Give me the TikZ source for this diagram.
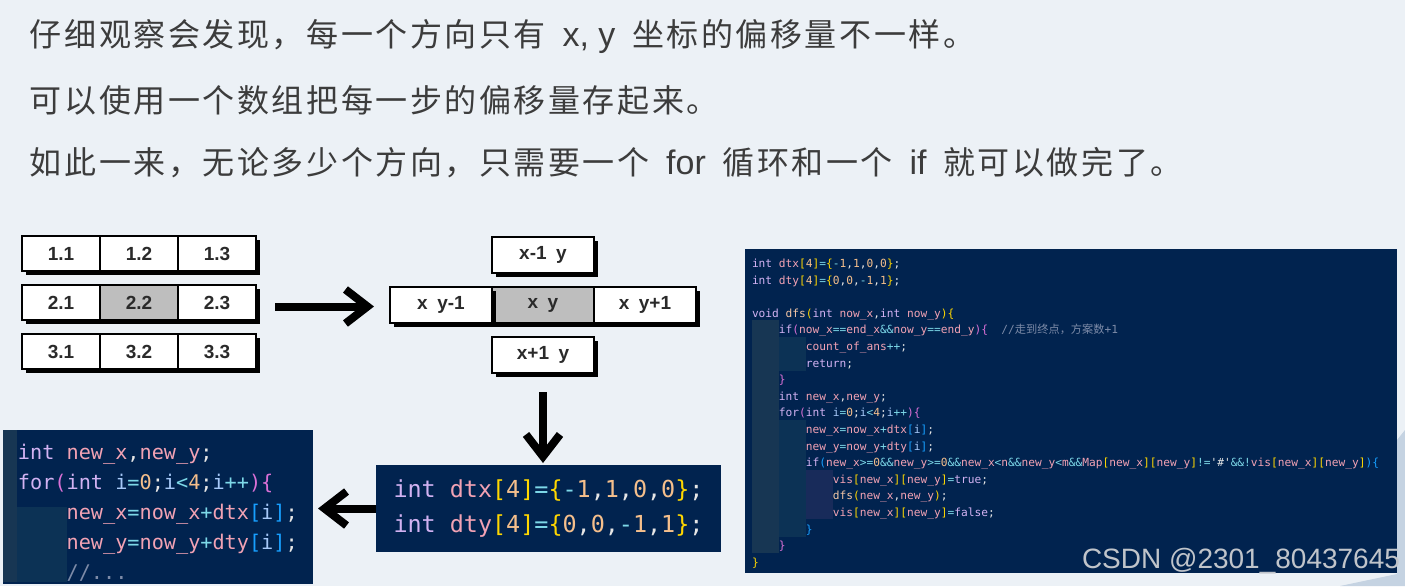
\documentclass[tikz,border=0pt]{standalone}
\usepackage{fontspec}
\setmainfont{Noto Sans CJK SC}
\setsansfont{Liberation Sans}
\setmonofont{DejaVu Sans Mono}
\newfontfamily\cjk{Noto Sans CJK SC}
\newfontfamily\cjkwide[LetterSpace=8]{Noto Sans CJK SC}
\usetikzlibrary{arrows.meta,calc,shadows,positioning}

\definecolor{bg}{HTML}{ECF1F6}
\definecolor{navy}{HTML}{01234F}
\definecolor{hotgray}{HTML}{BEBEBE}
\definecolor{celltext}{HTML}{2A2A2A}
\definecolor{slide}{HTML}{3C3C3C}
\definecolor{kwcol}{HTML}{D2B2F2}
\definecolor{idcol}{HTML}{F2A2B4}
\definecolor{fncol}{HTML}{F4C6A6}
\definecolor{numcol}{HTML}{F5BF8C}
\definecolor{opcol}{HTML}{7DD8E8}
\definecolor{pucol}{HTML}{E6E6E6}
\definecolor{vacol}{HTML}{A6C8F8}
\definecolor{brA}{HTML}{FFD700}
\definecolor{brB}{HTML}{DA70D6}
\definecolor{brC}{HTML}{179FFF}
\definecolor{cmcol}{HTML}{7D8BA8}
\definecolor{guideA}{HTML}{173653}
\definecolor{guideB}{HTML}{0C3255}
\definecolor{guideC}{HTML}{182B5A}
\definecolor{wmark}{HTML}{C0C4CA}
\definecolor{deco}{HTML}{C5D3E2}

\begin{document}
\begin{tikzpicture}[x=0.5pt,y=-0.5pt,
    every node/.style={outer sep=0pt},
    cell/.style={draw, line width=1pt, fill=white, inner sep=0pt,
      minimum width=39pt, minimum height=17.5pt, text=celltext,
      font=\sffamily\bfseries\fontsize{9.5}{10}\selectfont,
      general shadow={fill=black, shadow xshift=2pt, shadow yshift=-2pt}},
    xcell/.style={cell, minimum width=51pt, minimum height=18pt},
    hot/.style={fill=hotgray},
    fat/.style={line width=4pt, -{Straight Barb[length=11pt,width=17pt]}},
    codebox/.style={fill=navy, inner sep=0pt},
    slideline/.style={anchor=west, inner sep=0pt, text=slide,
      font=\cjkwide\fontsize{16}{20}\selectfont}]
  \newcommand{\Kw}[1]{\textcolor{kwcol}{#1}}
  \newcommand{\Id}[1]{\textcolor{idcol}{#1}}
  \newcommand{\Fn}[1]{\textcolor{fncol}{#1}}
  \newcommand{\Nm}[1]{\textcolor{numcol}{#1}}
  \newcommand{\Op}[1]{\textcolor{opcol}{#1}}
  \newcommand{\Pu}[1]{\textcolor{pucol}{#1}}
  \newcommand{\Va}[1]{\textcolor{vacol}{#1}}
  \newcommand{\Ba}[1]{\textcolor{brA}{#1}}
  \newcommand{\Bb}[1]{\textcolor{brB}{#1}}
  \newcommand{\Bc}[1]{\textcolor{brC}{#1}}
  \newcommand{\Cm}[1]{\textcolor{cmcol}{#1}}
  \newcommand{\Ind}{\phantom{0000}}
  \newcommand{\Lt}[1]{\hspace{3.5pt}{\sffamily\fontsize{17}{20}\selectfont #1}\hspace{3.5pt}}

  \fill[bg] (0,0) rectangle (1405,586);
  \useasboundingbox (0,0) rectangle (1405,586);
  \fill[deco] (1397,440) -- (1405,430) -- (1405,586) -- (1340,586) -- (1397,574) -- cycle;

  % slide text
  \node[slideline] (t1) at (30,36) {仔细观察会发现，每一个方向只有 \Lt{x, y} 坐标的偏移量不一样。};
  \node[slideline] (t2) at (30,100) {可以使用一个数组把每一步的偏移量存起来。};
  \node[slideline] (t3) at (30,163) {如此一来，无论多少个方向，只需要一个 \Lt{for} 循环和一个 \Lt{if} 就可以做完了。};

  % 3x3 grid
  \node[cell] (g11) at (61,253.5) {1.1};
  \node[cell, right=0pt of g11] (g12) {1.2};
  \node[cell, right=0pt of g12] (g13) {1.3};
  \node[cell, below=7pt of g11] (g21) {2.1};
  \node[cell, hot, right=0pt of g21] (g22) {2.2};
  \node[cell, right=0pt of g22] (g23) {2.3};
  \node[cell, below=7pt of g21] (g31) {3.1};
  \node[cell, right=0pt of g31] (g32) {3.2};
  \node[cell, right=0pt of g32] (g33) {3.3};

  % neighbours of (x,y)
  \node[xcell, hot] (xc) at (543,305) {x\enspace y};
  \node[xcell, left=0pt of xc] (xl) {x\enspace y-1};
  \node[xcell, right=0pt of xc] (xr) {x\enspace y+1};
  \node[xcell, above=7pt of xc] (xt) {x-1\enspace y};
  \node[xcell, below=7pt of xc] (xb) {x+1\enspace y};

  % offset arrays
  \node[codebox, minimum width=172.5pt, minimum height=43.5pt, align=left,
    font=\ttfamily\fontsize{11.7}{17.5}\selectfont] (dtxbox) at (548.5,508.5)
    {\Kw{int} \Id{dtx}\Ba{[}\Nm{4}\Ba{]}\Op{=}\Ba{\{}\Op{-}\Nm{1}\Pu{,}\Nm{1}\Pu{,}\Nm{0}\Pu{,}\Nm{0}\Ba{\}}\Pu{;}\\
     \Kw{int} \Id{dty}\Ba{[}\Nm{4}\Ba{]}\Op{=}\Ba{\{}\Nm{0}\Pu{,}\Nm{0}\Pu{,}\Op{-}\Nm{1}\Pu{,}\Nm{1}\Ba{\}}\Pu{;}};

  % loop snippet
  \node[codebox, minimum width=155pt, minimum height=77pt] (loopbox) at (158,507) {};
  \fill[guideA] (loopbox.north west) rectangle (17,582);
  \fill[guideB] (17,507) rectangle (67,582);
  \node[anchor=north west, inner sep=0pt, align=left,
    font=\ttfamily\fontsize{10.1}{15}\selectfont] (loopcode) at (18,444)
    {\Kw{int} \Id{new\_x}\Pu{,}\Id{new\_y}\Pu{;}\\
     \Kw{for}\Bb{(}\Kw{int} \Va{i}\Op{=}\Nm{0}\Pu{;}\Va{i}\Op{<}\Nm{4}\Pu{;}\Va{i}\Op{++}\Bb{)\{}\\
     \Ind\Id{new\_x}\Op{=}\Id{now\_x}\Op{+}\Id{dtx}\Bc{[}\Va{i}\Bc{]}\Pu{;}\\
     \Ind\Id{new\_y}\Op{=}\Id{now\_y}\Op{+}\Id{dty}\Bc{[}\Va{i}\Bc{]}\Pu{;}\\
     \Ind\Cm{//...}};

  % whole dfs
  \node[codebox, anchor=north west, minimum width=326pt, minimum height=162pt] (dfsbox) at (745,249) {};
  \fill[guideA] (752,320) rectangle (779,553);
  \fill[guideB] (779,337) rectangle (806,371);
  \fill[guideB] (779,420) rectangle (806,537);
  \fill[guideC] (806,470) rectangle (833,519);
  \node[anchor=north west, inner sep=0pt, align=left,
    font=\ttfamily\fontsize{5.6}{8.3}\selectfont] (dfscode) at (752,259)
    {\Kw{int} \Id{dtx}\Ba{[}\Nm{4}\Ba{]}\Op{=}\Ba{\{}\Op{-}\Nm{1}\Pu{,}\Nm{1}\Pu{,}\Nm{0}\Pu{,}\Nm{0}\Ba{\}}\Pu{;}\\
     \Kw{int} \Id{dty}\Ba{[}\Nm{4}\Ba{]}\Op{=}\Ba{\{}\Nm{0}\Pu{,}\Nm{0}\Pu{,}\Op{-}\Nm{1}\Pu{,}\Nm{1}\Ba{\}}\Pu{;}\\
     \mbox{}\\
     \Kw{void} \Fn{dfs}\Ba{(}\Kw{int} \Id{now\_x}\Pu{,}\Kw{int} \Id{now\_y}\Ba{)\{}\\
     \Ind\Kw{if}\Bb{(}\Id{now\_x}\Op{==}\Id{end\_x}\Op{\&\&}\Id{now\_y}\Op{==}\Id{end\_y}\Bb{)\{}\ \ \Cm{//{\cjk 走到终点，方案数}+1}\\
     \Ind\Ind\Id{count\_of\_ans}\Op{++}\Pu{;}\\
     \Ind\Ind\Kw{return}\Pu{;}\\
     \Ind\Bb{\}}\\
     \Ind\Kw{int} \Id{new\_x}\Pu{,}\Id{new\_y}\Pu{;}\\
     \Ind\Kw{for}\Bb{(}\Kw{int} \Va{i}\Op{=}\Nm{0}\Pu{;}\Va{i}\Op{<}\Nm{4}\Pu{;}\Va{i}\Op{++}\Bb{)\{}\\
     \Ind\Ind\Id{new\_x}\Op{=}\Id{now\_x}\Op{+}\Id{dtx}\Bc{[}\Va{i}\Bc{]}\Pu{;}\\
     \Ind\Ind\Id{new\_y}\Op{=}\Id{now\_y}\Op{+}\Id{dty}\Bc{[}\Va{i}\Bc{]}\Pu{;}\\
     \Ind\Ind\Kw{if}\Bc{(}\Id{new\_x}\Op{>=}\Nm{0}\Op{\&\&}\Id{new\_y}\Op{>=}\Nm{0}\Op{\&\&}\Id{new\_x}\Op{<}\Id{n}\Op{\&\&}\Id{new\_y}\Op{<}\Id{m}\Op{\&\&}\Id{Map}\Ba{[}\Id{new\_x}\Ba{][}\Id{new\_y}\Ba{]}\Op{!=}\Pu{'\#'}\Op{\&\&!}\Id{vis}\Ba{[}\Id{new\_x}\Ba{][}\Id{new\_y}\Ba{]}\Bc{)\{}\\
     \Ind\Ind\Ind\Id{vis}\Ba{[}\Id{new\_x}\Ba{][}\Id{new\_y}\Ba{]}\Op{=}\Kw{true}\Pu{;}\\
     \Ind\Ind\Ind\Fn{dfs}\Ba{(}\Id{new\_x}\Pu{,}\Id{new\_y}\Ba{)}\Pu{;}\\
     \Ind\Ind\Ind\Id{vis}\Ba{[}\Id{new\_x}\Ba{][}\Id{new\_y}\Ba{]}\Op{=}\Kw{false}\Pu{;}\\
     \Ind\Ind\Bc{\}}\\
     \Ind\Bb{\}}\\
     \Ba{\}}};

  \node[anchor=base east, inner sep=0pt, text=wmark,
    font=\sffamily\fontsize{14}{16}\selectfont] (mark) at (1400,568) {CSDN @2301\_80437645};

  % arrows
  \draw[fat, shorten <=9.5pt, shorten >=8pt] ($(g23.east)+(0,4)$) -- ($(g23.east -| xl.west)+(0,4)$);
  \draw[fat, shorten <=9.5pt, shorten >=1pt] (xb.south) -- (xb.south |- dtxbox.north);
  \draw[fat, shorten >=2.5pt] (dtxbox.west) -- (dtxbox.west -| loopbox.east);
\end{tikzpicture}
\end{document}
